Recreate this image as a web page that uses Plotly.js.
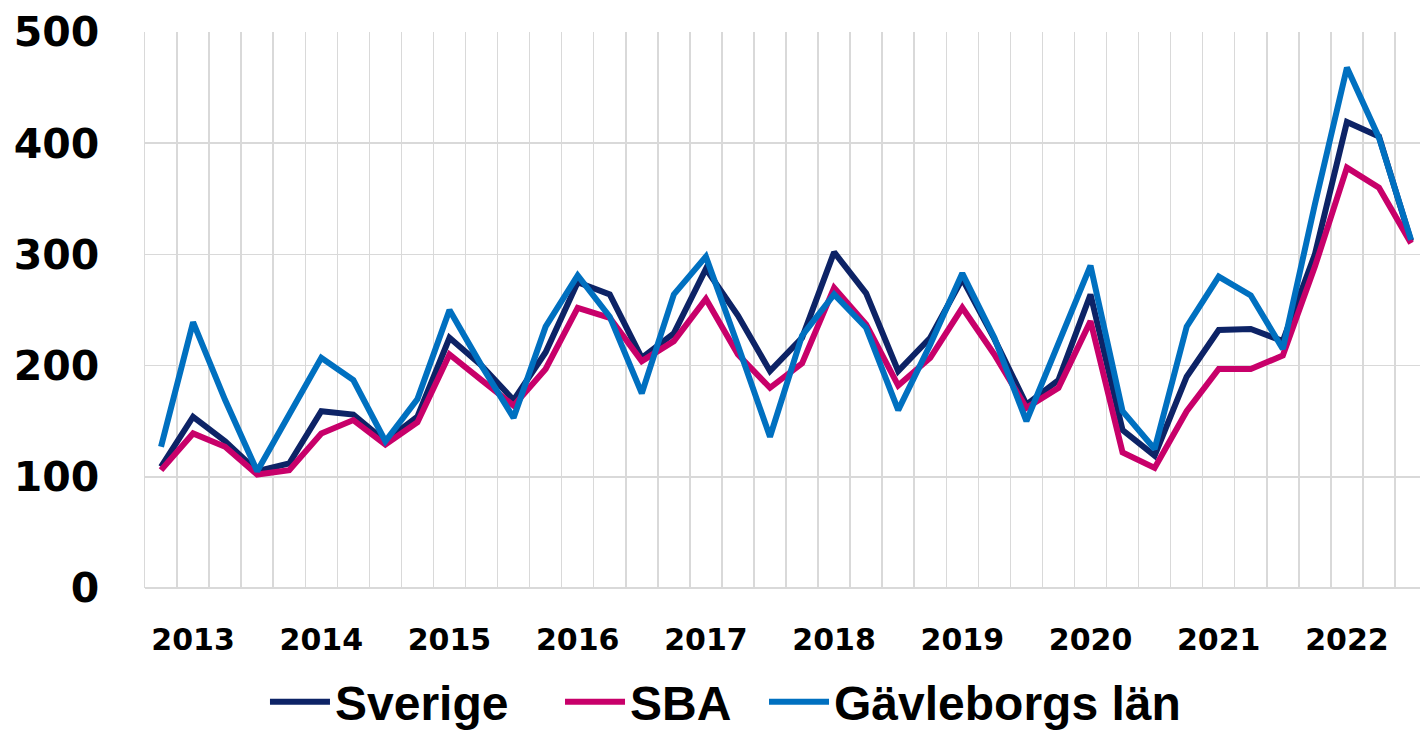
<!DOCTYPE html>
<html>
<head>
<meta charset="utf-8">
<script src="https://cdn.plot.ly/plotly-3.0.1.min.js"></script>
<style>
  html, body { margin: 0; padding: 0; background: #fff; }
  #chart { width: 1420px; height: 736px; }
</style>
</head>
<body>
<div id="chart"></div>
<script>
// quarters 2013 Q1 .. 2022 Q4, one value per quarter
var quarters = [];
for (var q = 0; q < 40; q++) quarters.push(q);

var years = ['2013', '2014', '2015', '2016', '2017', '2018', '2019', '2020', '2021', '2022'];
// year label sits under the second quarter of each year
var yearTicks = [1, 5, 9, 13, 17, 21, 25, 29, 33, 37];

var sverige = [109, 154, 132, 105, 112, 159, 156, 132, 154, 225,
               200, 169, 212, 275, 264, 207, 229, 287, 245, 195,
               225, 302, 265, 195, 225, 278, 224, 165, 187, 264,
               142, 119, 190, 232, 233, 222, 300, 419, 406, 312];

var sba = [106, 139, 127, 102, 106, 139, 151, 129, 149, 210,
           187, 164, 197, 252, 243, 204, 222, 260, 210, 180,
           202, 270, 237, 182, 207, 252, 210, 162, 180, 240,
           122, 108, 159, 197, 197, 209, 289, 378, 360, 310];

var gavleborg = [127, 239, 169, 105, 156, 207, 187, 132, 170, 250,
                 200, 153, 235, 281, 244, 175, 264, 298, 218, 136,
                 227, 264, 234, 160, 219, 283, 225, 150, 220, 290,
                 159, 125, 235, 280, 263, 215, 345, 468, 405, 313];

var gridColor = '#d9d9d9';
var legendFont = { family: 'Liberation Sans', size: 48, weight: 'bold', color: '#000' };

function lineTrace(name, values, color, legendId) {
  return {
    type: 'scatter',
    mode: 'lines',
    name: name,
    x: quarters,
    y: values,
    legend: legendId,
    line: { color: color, width: 6 },
    hoverinfo: 'skip'
  };
}

// one legend box per series so the gaps between entries can follow the original
function legendBox(x) {
  return {
    orientation: 'h',
    x: x,
    xanchor: 'left',
    y: -0.205,
    yanchor: 'middle',
    itemwidth: 60,
    font: legendFont,
    bgcolor: 'rgba(0,0,0,0)'
  };
}

var data = [
  lineTrace('Sverige', sverige, '#0d2366', 'legend'),
  lineTrace('SBA', sba, '#c8006a', 'legend2'),
  lineTrace('Gävleborgs län', gavleborg, '#0070c0', 'legend3')
];

var layout = {
  width: 1420,
  height: 736,
  // keep the plot box fixed; the legends must not push the margins
  margin: { l: 145, r: 0, t: 32, b: 148, autoexpand: false },
  paper_bgcolor: '#fff',
  plot_bgcolor: '#fff',
  showlegend: true,
  xaxis: {
    range: [-0.5, 39.28],
    tickmode: 'array',
    tickvals: yearTicks,
    ticktext: years,
    showgrid: false,
    zeroline: false,
    showline: false,
    ticks: 'outside',
    ticklen: 25,
    tickcolor: 'rgba(0,0,0,0)',
    tickfont: { family: 'DejaVu Sans', size: 30, weight: 'bold', color: '#000' },
    minor: {
      tickmode: 'linear',
      tick0: -0.5,
      dtick: 1,
      showgrid: true,
      gridcolor: gridColor,
      gridwidth: 1.5
    }
  },
  yaxis: {
    range: [0, 500],
    dtick: 100,
    showgrid: true,
    gridcolor: gridColor,
    gridwidth: 1.5,
    zeroline: true,
    zerolinecolor: gridColor,
    zerolinewidth: 1.5,
    showline: true,
    linecolor: gridColor,
    linewidth: 1.5,
    ticks: 'outside',
    ticklen: 36,
    tickcolor: 'rgba(0,0,0,0)',
    tickfont: { family: 'DejaVu Sans', size: 41, weight: 'bold', color: '#000' }
  },
  legend: legendBox(0.0941),
  legend2: legendBox(0.3255),
  legend3: legendBox(0.4855)
};

Plotly.newPlot('chart', data, layout, { displayModeBar: false, staticPlot: true });
</script>
</body>
</html>
